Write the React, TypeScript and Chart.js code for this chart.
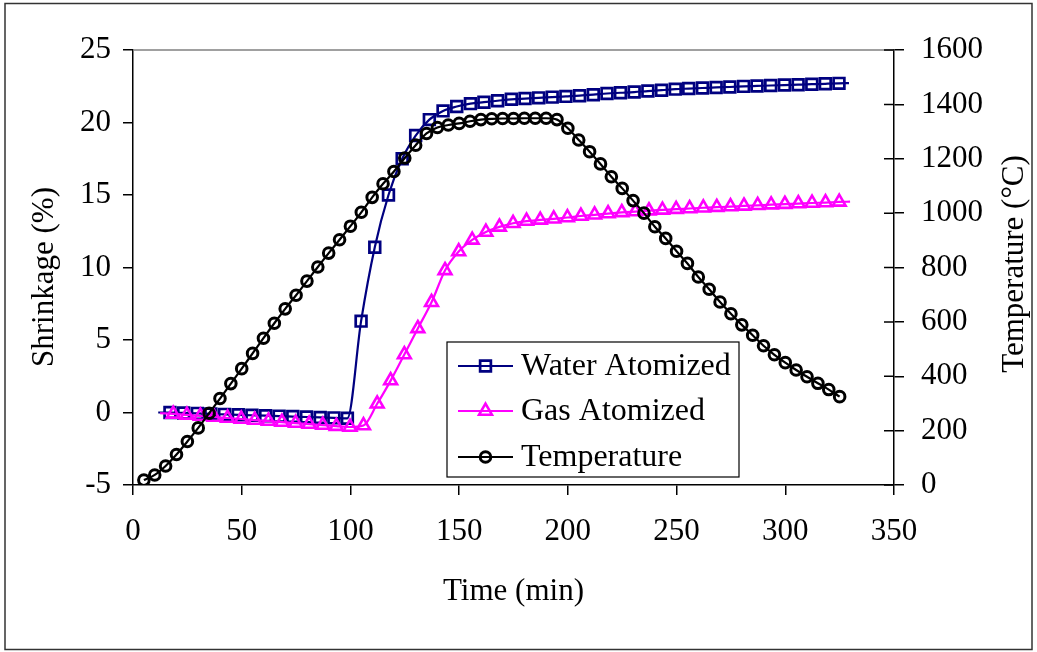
import React, { useEffect, useRef } from "react";
import { Chart, registerables } from "chart.js";

Chart.register(...registerables);

// ---- Data ----
const xTickValues = [0, 50, 100, 150, 200, 250, 300, 350];
const shrinkTickValues = [-5, 0, 5, 10, 15, 20, 25];
const tempTickValues = [0, 200, 400, 600, 800, 1000, 1200, 1400, 1600];

const seriesLabels = ["Water Atomized", "Gas Atomized", "Temperature"];

const waterTime = [
  11.6, 17.0, 23.3, 29.6, 35.8, 42.1, 48.4, 54.7, 61.0, 67.2, 73.5, 79.8, 86.1,
  92.4, 98.6, 104.9, 111.2, 117.5, 123.8, 130.0, 136.3, 142.6, 148.9, 155.2,
  161.4, 167.7, 174.0, 180.3, 186.6, 192.8, 199.1, 205.4, 211.7, 218.0, 224.2,
  230.5, 236.8, 243.1, 249.4, 255.6, 261.9, 268.2, 274.5, 280.8, 287.0, 293.3,
  299.6, 305.9, 312.2, 318.4, 324.7, 329.3,
];
const waterShrinkage = [
  0.0, 0.0, -0.03, -0.06, -0.1, -0.13, -0.16, -0.19, -0.22, -0.25, -0.28,
  -0.31, -0.34, -0.37, -0.4, 6.3, 11.4, 15.0, 17.5, 19.1, 20.2, 20.8, 21.1,
  21.3, 21.4, 21.5, 21.6, 21.65, 21.7, 21.75, 21.8, 21.85, 21.92, 22.0, 22.05,
  22.1, 22.17, 22.23, 22.3, 22.34, 22.38, 22.42, 22.45, 22.49, 22.52, 22.55,
  22.58, 22.61, 22.64, 22.67, 22.7, 22.72,
];

const gasTime = [
  12.4, 18.5, 24.8, 31.0, 37.3, 43.5, 49.8, 56.0, 62.3, 68.5, 74.8, 81.0, 87.3,
  93.5, 99.8, 106.0, 112.3, 118.5, 124.8, 131.0, 137.3, 143.5, 149.8, 156.0,
  162.3, 168.5, 174.8, 181.0, 187.3, 193.5, 199.8, 206.0, 212.3, 218.5, 224.8,
  231.0, 237.3, 243.5, 249.8, 256.0, 262.3, 268.5, 274.8, 281.0, 287.3, 293.5,
  299.8, 306.0, 312.3, 318.5, 324.8, 329.8,
];
const gasShrinkage = [
  -0.05, -0.1, -0.17, -0.24, -0.31, -0.38, -0.45, -0.52, -0.59, -0.66, -0.73,
  -0.8, -0.87, -0.94, -1.0, -0.9, 0.6, 2.2, 4.0, 5.8, 7.6, 9.8, 11.1, 11.9,
  12.45, 12.8, 13.05, 13.2, 13.28, 13.36, 13.45, 13.55, 13.63, 13.72, 13.8,
  13.86, 13.92, 13.97, 14.02, 14.07, 14.12, 14.16, 14.2, 14.25, 14.29, 14.33,
  14.37, 14.41, 14.45, 14.48, 14.52, 14.54,
];

const tempTime = [
  5, 10, 15, 20, 25, 30, 35, 40, 45, 50, 55, 60, 65, 70, 75, 80, 85, 90, 95,
  100, 105, 110, 115, 120, 125, 130, 135, 140, 145, 150, 155, 160, 165, 170,
  175, 180, 185, 190, 195, 200, 205, 210, 215, 220, 225, 230, 235, 240, 245,
  250, 255, 260, 265, 270, 275, 280, 285, 290, 295, 300, 305, 310, 315, 320,
  325,
];
const temperature = [
  18, 37, 70, 112, 160, 210, 264, 318, 373, 428, 484, 540, 595, 648, 698, 750,
  802, 853, 902, 952, 1003, 1058, 1108, 1153, 1203, 1250, 1293, 1315, 1324,
  1330, 1338, 1344, 1347, 1348, 1348, 1349, 1349, 1349, 1344, 1312, 1269, 1226,
  1181, 1134, 1091, 1046, 1000, 950, 907, 860, 815, 765, 720, 673, 630, 589,
  551, 512, 479, 450, 423, 398, 374, 351, 325,
];

const FONT = '"Liberation Serif", "Times New Roman", serif';
const NAVY = "#000080";
const MAGENTA = "#FF00FF";
const BLACK = "#000000";

const toXY = (xs: number[], ys: number[]) => xs.map((x, i) => ({ x, y: ys[i] }));

// line extends slightly beyond the first/last marker: no marker on end points
const endlessRadius = (r: number) => (ctx: any) => {
  const n = ctx.dataset.data.length;
  return ctx.dataIndex === 0 || ctx.dataIndex === n - 1 ? 0 : r;
};

function drawMarker(ctx: CanvasRenderingContext2D, style: string, x: number, y: number, r: number) {
  ctx.beginPath();
  if (style === "rect") {
    const s = Math.SQRT1_2 * r;
    ctx.rect(x - s, y - s, 2 * s, 2 * s);
  } else if (style === "triangle") {
    let a = 0;
    ctx.moveTo(x + Math.sin(a) * r, y - Math.cos(a) * r);
    a += (2 * Math.PI) / 3;
    ctx.lineTo(x + Math.sin(a) * r, y - Math.cos(a) * r);
    a += (2 * Math.PI) / 3;
    ctx.lineTo(x + Math.sin(a) * r, y - Math.cos(a) * r);
    ctx.closePath();
  } else {
    ctx.arc(x, y, r, 0, Math.PI * 2);
  }
  ctx.stroke();
}

const decorations = {
  id: "decorations",
  afterDraw(chart: any) {
    const ctx: CanvasRenderingContext2D = chart.ctx;
    const { left, right, top } = chart.chartArea;
    ctx.save();

    // outer chart border
    ctx.strokeStyle = "#333333";
    ctx.lineWidth = 1.5;
    ctx.strokeRect(5, 3.5, 1027, 646);

    // gray top border of the plot area
    ctx.strokeStyle = "#808080";
    ctx.lineWidth = 1.5;
    ctx.beginPath();
    ctx.moveTo(left, top);
    ctx.lineTo(right, top);
    ctx.stroke();

    // inner half of the right axis ticks (they cross the axis)
    const y2 = chart.scales.y2;
    ctx.strokeStyle = BLACK;
    ctx.beginPath();
    y2.ticks.forEach((t: any) => {
      const py = y2.getPixelForValue(t.value);
      ctx.moveTo(right - 10, py);
      ctx.lineTo(right, py);
    });
    ctx.stroke();

    // axis titles
    ctx.fillStyle = BLACK;
    ctx.font = `31px ${FONT}`;
    ctx.textAlign = "center";
    ctx.textBaseline = "alphabetic";
    ctx.fillText("Time (min)", (left + right) / 2, 600);

    ctx.textBaseline = "middle";
    ctx.save();
    ctx.translate(45, 277);
    ctx.rotate(-Math.PI / 2);
    ctx.fillText("Shrinkage (%)", 0, 0);
    ctx.restore();

    ctx.save();
    ctx.translate(1015, 264);
    ctx.rotate(-Math.PI / 2);
    ctx.fillText("Temperature (\u00B0C)", 0, 0);
    ctx.restore();

    // legend
    const bx = 447, by = 342, bw = 292, bh = 135;
    ctx.fillStyle = "#FFFFFF";
    ctx.fillRect(bx, by, bw, bh);
    ctx.strokeStyle = "#000000";
    ctx.lineWidth = 1.2;
    ctx.strokeRect(bx, by, bw, bh);
    const rows = [366, 411, 457];
    chart.data.datasets.forEach((ds: any, i: number) => {
      const y = rows[i];
      ctx.strokeStyle = ds.borderColor;
      ctx.lineWidth = 2.2;
      ctx.beginPath();
      ctx.moveTo(458, y);
      ctx.lineTo(513, y);
      ctx.stroke();
      ctx.lineWidth = ds.pointBorderWidth;
      drawMarker(ctx, ds.pointStyle, 485.5, y, ds.legendRadius);
      ctx.fillStyle = BLACK;
      ctx.font = `32px ${FONT}`;
      ctx.textAlign = "left";
      ctx.textBaseline = "middle";
      ctx.fillText(ds.label, 521, y + 1);
    });

    ctx.restore();
  },
};

export default function App() {
  const canvasRef = useRef<HTMLCanvasElement | null>(null);

  useEffect(() => {
    document.body.style.margin = "0";
    const canvas = canvasRef.current;
    if (!canvas) return;

    const tickFont = { family: FONT, size: 31 };
    const plain = (v: any) => String(v);
    const gridCommon = {
      drawOnChartArea: false,
      drawTicks: true,
      tickLength: 10,
      color: BLACK,
      lineWidth: 1.5,
    };
    const borderCommon = { display: true, color: BLACK, width: 1.5 };

    const chart = new Chart(canvas, {
      type: "line",
      data: {
        datasets: [
          {
            label: seriesLabels[0],
            data: toXY(waterTime, waterShrinkage),
            yAxisID: "y",
            borderColor: NAVY,
            backgroundColor: "rgba(0,0,0,0)",
            borderWidth: 2.2,
            pointStyle: "rect",
            pointRadius: endlessRadius(7.6),
            pointBorderWidth: 2.7,
            pointBorderColor: NAVY,
            pointBackgroundColor: "rgba(0,0,0,0)",
            cubicInterpolationMode: "monotone",
            order: 2,
            legendRadius: 7.6,
          } as any,
          {
            label: seriesLabels[1],
            data: toXY(gasTime, gasShrinkage),
            yAxisID: "y",
            borderColor: MAGENTA,
            backgroundColor: "rgba(0,0,0,0)",
            borderWidth: 2.2,
            pointStyle: "triangle",
            pointRadius: endlessRadius(7.4),
            pointBorderWidth: 2.6,
            pointBorderColor: MAGENTA,
            pointBackgroundColor: "rgba(0,0,0,0)",
            cubicInterpolationMode: "monotone",
            order: 1,
            legendRadius: 7.4,
          } as any,
          {
            label: seriesLabels[2],
            data: toXY(tempTime, temperature),
            yAxisID: "y2",
            borderColor: BLACK,
            backgroundColor: "rgba(0,0,0,0)",
            borderWidth: 2.2,
            pointStyle: "circle",
            pointRadius: 5.3,
            pointBorderWidth: 3,
            pointBorderColor: BLACK,
            pointBackgroundColor: "rgba(0,0,0,0)",
            cubicInterpolationMode: "monotone",
            order: 0,
            legendRadius: 5.3,
          } as any,
        ],
      },
      options: {
        animation: false,
        responsive: false,
        devicePixelRatio: 1,
        events: [],
        layout: { padding: { top: 50, left: 0, right: 0, bottom: 0 } },
        plugins: {
          legend: { display: false },
          tooltip: { enabled: false },
          title: { display: false },
        },
        scales: {
          x: {
            type: "linear",
            position: "bottom",
            min: 0,
            max: 350,
            afterBuildTicks: (scale: any) => {
              scale.ticks = xTickValues.map((v) => ({ value: v }));
            },
            afterFit: (scale: any) => {
              scale.height = 167;
            },
            ticks: { font: tickFont, color: BLACK, padding: 18, maxRotation: 0, autoSkip: false, callback: plain },
            grid: gridCommon,
            border: borderCommon,
          },
          y: {
            type: "linear",
            position: "left",
            min: -5,
            max: 25,
            afterBuildTicks: (scale: any) => {
              scale.ticks = shrinkTickValues.map((v) => ({ value: v }));
            },
            afterFit: (scale: any) => {
              scale.width = 133;
            },
            ticks: { font: tickFont, color: BLACK, padding: 12, autoSkip: false, callback: plain },
            grid: gridCommon,
            border: borderCommon,
          },
          y2: {
            type: "linear",
            position: "right",
            min: 0,
            max: 1600,
            afterBuildTicks: (scale: any) => {
              scale.ticks = tempTickValues.map((v) => ({ value: v }));
            },
            afterFit: (scale: any) => {
              scale.width = 143;
            },
            ticks: { font: tickFont, color: BLACK, padding: 17, autoSkip: false, callback: plain },
            grid: gridCommon,
            border: borderCommon,
          },
        },
      } as any,
      plugins: [decorations],
    });

    return () => {
      chart.destroy();
    };
  }, []);

  return (
    <div style={{ width: 1037, height: 652, background: "#FFFFFF" }}>
      <canvas ref={canvasRef} width={1037} height={652} style={{ display: "block" }} />
    </div>
  );
}
